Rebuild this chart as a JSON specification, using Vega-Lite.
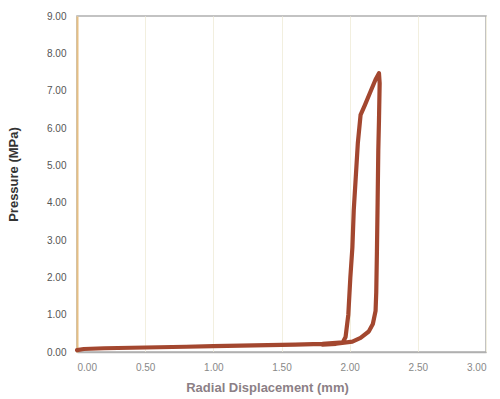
{
  "$schema": "https://vega.github.io/schema/vega-lite/v6.json",
  "width": 409,
  "height": 336,
  "autosize": "none",
  "padding": {"left": 77, "top": 16, "right": 14, "bottom": 47},
  "background": "white",
  "config": {
    "view": {"stroke": "#b0b0b0", "strokeWidth": 1.5},
    "font": "Liberation Sans"
  },
  "data": {
    "values": [
      {"i": 0, "d": 0.00, "p": 0.05},
      {"i": 1, "d": 0.05, "p": 0.08},
      {"i": 2, "d": 0.20, "p": 0.10},
      {"i": 3, "d": 0.50, "p": 0.12},
      {"i": 4, "d": 0.80, "p": 0.14},
      {"i": 5, "d": 1.00, "p": 0.16},
      {"i": 6, "d": 1.30, "p": 0.18},
      {"i": 7, "d": 1.60, "p": 0.20},
      {"i": 8, "d": 1.80, "p": 0.22},
      {"i": 9, "d": 1.95, "p": 0.26},
      {"i": 10, "d": 1.97, "p": 0.40},
      {"i": 11, "d": 1.99, "p": 1.00},
      {"i": 12, "d": 2.005, "p": 2.00},
      {"i": 13, "d": 2.02, "p": 2.80},
      {"i": 14, "d": 2.03, "p": 3.80},
      {"i": 15, "d": 2.045, "p": 4.70},
      {"i": 16, "d": 2.06, "p": 5.60},
      {"i": 17, "d": 2.08, "p": 6.35},
      {"i": 18, "d": 2.11, "p": 6.60},
      {"i": 19, "d": 2.15, "p": 6.95},
      {"i": 20, "d": 2.19, "p": 7.30},
      {"i": 21, "d": 2.215, "p": 7.47},
      {"i": 22, "d": 2.22, "p": 7.20},
      {"i": 23, "d": 2.215, "p": 6.20},
      {"i": 24, "d": 2.21, "p": 5.40},
      {"i": 25, "d": 2.205, "p": 4.00},
      {"i": 26, "d": 2.20, "p": 2.70},
      {"i": 27, "d": 2.195, "p": 1.60},
      {"i": 28, "d": 2.19, "p": 1.10},
      {"i": 29, "d": 2.17, "p": 0.75},
      {"i": 30, "d": 2.14, "p": 0.55},
      {"i": 31, "d": 2.08, "p": 0.38},
      {"i": 32, "d": 2.02, "p": 0.28},
      {"i": 33, "d": 1.90, "p": 0.22},
      {"i": 34, "d": 1.80, "p": 0.20}
    ]
  },
  "mark": {"type": "line", "color": "#a3472f", "strokeWidth": 4.2, "strokeCap": "round", "strokeJoin": "round"},
  "encoding": {
    "order": {"field": "i", "type": "quantitative"},
    "x": {
      "field": "d",
      "type": "quantitative",
      "scale": {"domain": [0, 3], "nice": false, "zero": true},
      "axis": {
        "title": "Radial Displacement  (mm)",
        "format": ".2f",
        "values": [0, 0.5, 1, 1.5, 2, 2.5, 3],
        "grid": true,
        "gridColor": "#f2efdf",
        "domainColor": "#b0b0b0",
        "domainWidth": 1.5,
        "ticks": false,
        "labelPadding": 10,
        "labelFontSize": 10,
        "labelColor": "#888888",
        "titleFontSize": 13,
        "titleFontWeight": "bold",
        "titleColor": "#8c7f86",
        "titlePadding": 9,
        "titleX": 190
      }
    },
    "y": {
      "field": "p",
      "type": "quantitative",
      "scale": {"domain": [0, 9], "nice": false},
      "axis": {
        "title": "Pressure (MPa)",
        "format": ".2f",
        "values": [0, 1, 2, 3, 4, 5, 6, 7, 8, 9],
        "grid": false,
        "domainColor": "#e6bf84",
        "domainWidth": 2,
        "ticks": false,
        "labelPadding": 11,
        "labelFontSize": 10,
        "labelColor": "#555555",
        "titleFontSize": 13,
        "titleFontWeight": "bold",
        "titleColor": "#333333",
        "titlePadding": 26,
        "titleY": 158
      }
    }
  }
}
